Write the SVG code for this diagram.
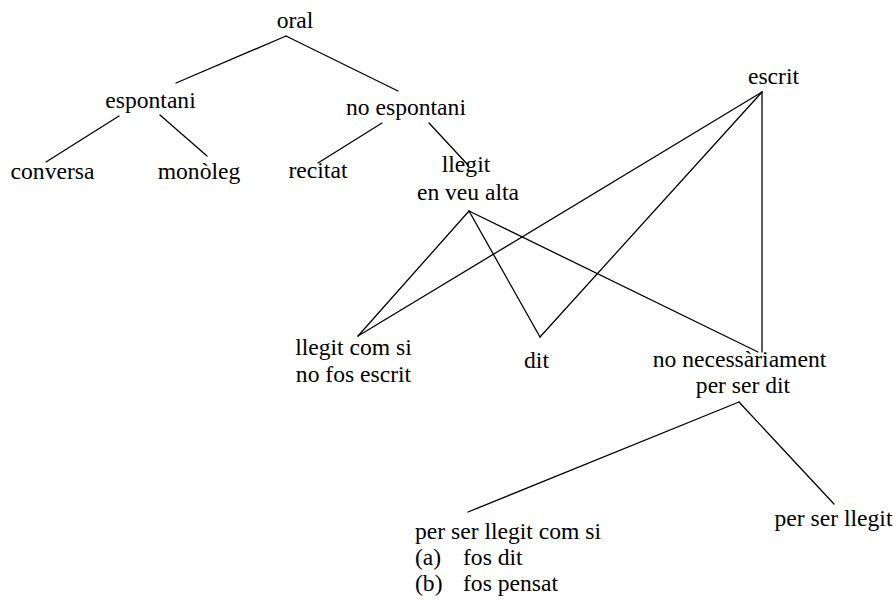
<svg xmlns="http://www.w3.org/2000/svg" width="896" height="601" viewBox="0 0 896 601">
<style>
.t text{font-size:23.6px;fill:#000}
.c{text-anchor:middle}
.e line{stroke:#000;stroke-width:1.3;stroke-linecap:round}
</style>
<rect width="896" height="601" fill="#fff"/>
<g id="connectors" class="e">
<line x1="286" y1="36" x2="176" y2="83"/>
<line x1="286" y1="36" x2="398" y2="91"/>
<line x1="119" y1="116" x2="46" y2="162"/>
<line x1="160" y1="115" x2="207" y2="156"/>
<line x1="382" y1="123" x2="318" y2="163"/>
<line x1="429" y1="123" x2="468" y2="165"/>
<line x1="469" y1="211" x2="358" y2="336"/>
<line x1="469" y1="211" x2="540" y2="337"/>
<line x1="469" y1="211" x2="758" y2="352"/>
<line x1="762" y1="92" x2="358" y2="336"/>
<line x1="762" y1="92" x2="540" y2="337"/>
<line x1="762" y1="92" x2="762" y2="352"/>
<line x1="739" y1="402" x2="468" y2="512"/>
<line x1="739" y1="402" x2="834" y2="504"/>
</g>
<g class="t" font-family="'Liberation Serif', 'Times New Roman', serif">
<g id="oral"><text class="c" x="295" y="28">oral</text></g>
<g id="espontani"><text class="c" x="150.5" y="108">espontani</text></g>
<g id="no-espontani"><text class="c" x="406" y="115">no espontani</text></g>
<g id="conversa"><text class="c" x="52.5" y="179">conversa</text></g>
<g id="monoleg"><text class="c" x="199" y="179">monòleg</text></g>
<g id="recitat"><text class="c" x="318" y="178">recitat</text></g>
<g id="llegit-en-veu-alta"><text class="c" x="466" y="172">llegit</text><text class="c" x="468" y="200">en veu alta</text></g>
<g id="escrit"><text class="c" x="773.5" y="84">escrit</text></g>
<g id="llegit-com-si"><text class="c" x="353.5" y="355">llegit com si</text><text class="c" x="353.5" y="382">no fos escrit</text></g>
<g id="dit"><text class="c" x="536.5" y="368">dit</text></g>
<g id="no-necessariament"><text class="c" x="739.5" y="367">no necessàriament</text><text class="c" x="743" y="393">per ser dit</text></g>
<g id="per-ser-llegit"><text class="c" x="833.5" y="526">per ser llegit</text></g>
<g id="per-ser-llegit-com-si"><text x="415" y="539">per ser llegit com si</text><text x="415" y="565">(a)</text><text x="463" y="565">fos dit</text><text x="415" y="591">(b)</text><text x="463" y="591">fos pensat</text></g>
</g>
</svg>
